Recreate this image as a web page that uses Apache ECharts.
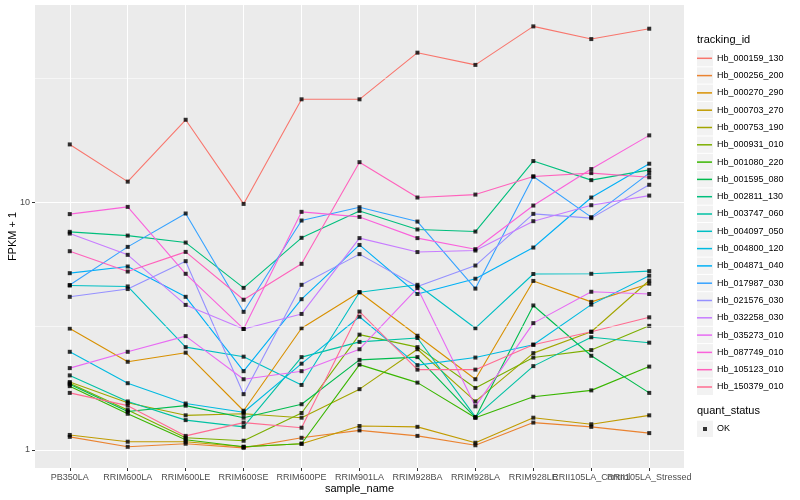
<!DOCTYPE html>
<html>
<head>
<meta charset="utf-8">
<script src="https://cdn.jsdelivr.net/npm/echarts@6/dist/echarts.min.js"></script>
<style>html,body{margin:0;padding:0;background:#fff}#c{width:800px;height:500px}</style>
</head>
<body>
<div id="c"></div>
<script>
const categories = ['PB350LA','RRIM600LA','RRIM600LE','RRIM600SE','RRIM600PE','RRIM901LA','RRIM928BA','RRIM928LA','RRIM928LE','RRII105LA_Control','RRII105LA_Stressed'];

const trackingIds = ['Hb_000159_130','Hb_000256_200','Hb_000270_290','Hb_000703_270','Hb_000753_190','Hb_000931_010','Hb_001080_220','Hb_001595_080','Hb_002811_130','Hb_003747_060','Hb_004097_050','Hb_004800_120','Hb_004871_040','Hb_017987_030','Hb_021576_030','Hb_032258_030','Hb_035273_010','Hb_087749_010','Hb_105123_010','Hb_150379_010'];

const hb000159_130 = [17.1, 12.1, 21.5, 9.84, 26.0, 26.0, 40.1, 35.8, 51.2, 45.5, 50.1];
const hb000256_200 = [1.13, 1.03, 1.06, 1.02, 1.12, 1.20, 1.14, 1.045, 1.29, 1.24, 1.17];
const hb000270_290 = [3.09, 2.27, 2.47, 1.44, 3.10, 4.33, 2.89, 1.93, 4.81, 3.96, 4.69];
const hb000703_270 = [1.15, 1.08, 1.08, 1.03, 1.06, 1.25, 1.24, 1.07, 1.35, 1.27, 1.38];
const hb000753_190 = [1.88, 1.55, 1.38, 1.40, 1.35, 1.76, 2.55, 1.57, 2.46, 3.00, 4.83];
const hb000931_010 = [1.86, 1.45, 1.12, 1.09, 1.41, 2.92, 2.60, 1.78, 2.36, 2.53, 3.17];
const hb001080_220 = [1.81, 1.40, 1.10, 1.03, 1.06, 2.21, 1.87, 1.35, 1.64, 1.74, 2.17];
const hb001595_080 = [1.84, 1.43, 1.51, 1.35, 1.53, 2.31, 2.37, 1.35, 3.83, 2.40, 1.70];
const hb002811_130 = [7.59, 7.33, 6.87, 4.51, 7.18, 9.22, 7.76, 7.61, 14.65, 12.27, 13.5];
const hb003747_060 = [2.00, 1.57, 1.32, 1.24, 2.37, 2.73, 2.83, 1.36, 2.18, 2.85, 2.71];
const hb004097_050 = [4.61, 4.57, 2.60, 2.38, 1.83, 4.33, 4.64, 3.10, 5.13, 5.14, 5.27];
const hb004800_120 = [2.49, 1.86, 1.54, 1.42, 2.23, 3.45, 2.20, 2.36, 2.66, 3.86, 5.05];
const hb004871_040 = [5.17, 5.50, 4.15, 2.08, 4.06, 6.72, 4.26, 4.91, 6.56, 10.44, 14.29];
const hb017987_030 = [4.63, 6.60, 9.00, 3.61, 8.43, 9.54, 8.35, 4.48, 12.69, 8.70, 13.1];
const hb021576_030 = [4.15, 4.46, 5.78, 1.68, 4.64, 6.17, 4.57, 5.55, 8.97, 8.62, 11.75];
const hb032258_030 = [7.47, 6.13, 3.85, 3.08, 3.54, 7.16, 6.29, 6.38, 8.38, 9.72, 10.63];
const hb035273_010 = [2.14, 2.49, 2.88, 1.93, 2.08, 2.55, 4.50, 1.50, 3.25, 4.35, 4.26];
const hb087749_010 = [8.95, 9.57, 5.14, 3.08, 9.14, 8.72, 7.16, 6.46, 9.69, 13.6, 18.6];
const hb105123_010 = [6.34, 5.25, 6.30, 4.04, 5.64, 14.5, 10.44, 10.73, 12.69, 13.1, 12.6];
const hb150379_010 = [1.70, 1.51, 1.14, 1.29, 1.23, 3.62, 2.11, 2.11, 2.66, 3.00, 3.43];

const seriesValues = [hb000159_130, hb000256_200, hb000270_290, hb000703_270, hb000753_190, hb000931_010, hb001080_220, hb001595_080, hb002811_130, hb003747_060, hb004097_050, hb004800_120, hb004871_040, hb017987_030, hb021576_030, hb032258_030, hb035273_010, hb087749_010, hb105123_010, hb150379_010];

const colors = ['#F8766D','#EA8331','#D89000','#C09B00','#A3A500','#7CAE00','#39B600','#00BB4E','#00BF7D','#00C1A3','#00BFC4','#00BAE0','#00B0F6','#35A2FF','#9590FF','#C77CFF','#E76BF3','#FA62DB','#FF62BC','#FF6C91'];

const yTicks = [1, 10];
const yMinorTicks = [3.1623, 31.623];
const quantStatus = ['OK'];

const FONT = 'Liberation Sans, Arial, Helvetica, sans-serif';

const catIdx = categories.map((c, i) => i);
const evenIdx = catIdx.filter(i => i % 2 === 0);
const oddIdx = catIdx.filter(i => i % 2 === 1);

const chart = echarts.init(document.getElementById('c'), null, {renderer: 'canvas'});

const lineSeries = seriesValues.map((vals, k) => ({
  name: trackingIds[k],
  type: 'line',
  xAxisIndex: 0,
  yAxisIndex: 0,
  data: vals.map((v, i) => [i, v]),
  symbol: 'none',
  showSymbol: false,
  lineStyle: {color: colors[k], width: 1.1},
  itemStyle: {color: colors[k]},
  z: 2,
  silent: true,
  animation: false
}));

const allPoints = [];
seriesValues.forEach(vals => vals.forEach((v, i) => allPoints.push([i, v])));

const keyRects = trackingIds.map((id, i) => ({
  type: 'rect',
  shape: {x: 697, y: 50 + i * 17.3, width: 16, height: 16.3},
  style: {fill: '#F2F2F2'},
  z: 0, silent: true
}));
keyRects.push({
  type: 'rect',
  shape: {x: 697, y: 420.7, width: 16, height: 16.3},
  style: {fill: '#F2F2F2'},
  z: 0, silent: true
});

const labelStyle = {color: '#4D4D4D', fontSize: 9, margin: 5, fontFamily: FONT};

const option = {
  animation: false,
  backgroundColor: '#ffffff',
  textStyle: {fontFamily: FONT},
  title: [
    {text: 'tracking_id', left: 697, top: 34, padding: 0,
     textStyle: {fontSize: 11, fontWeight: 'normal', color: '#000', fontFamily: FONT}},
    {text: 'quant_status', left: 697, top: 405, padding: 0,
     textStyle: {fontSize: 11, fontWeight: 'normal', color: '#000', fontFamily: FONT}}
  ],
  grid: [
    {left: 35, right: 116, top: 5, bottom: 32, show: true, backgroundColor: '#EBEBEB', borderWidth: 0,
     containLabel: false, outerBoundsMode: 'none'},
    {left: 69.8, right: 150.8, top: 5, bottom: 32, show: false, containLabel: false, outerBoundsMode: 'none'}
  ],
  xAxis: [
    {gridIndex: 0, type: 'value', min: -0.6, max: 10.6, position: 'bottom',
     axisLine: {show: false, onZero: false}, axisTick: {show: false}, splitLine: {show: false},
     axisLabel: Object.assign({customValues: oddIdx, formatter: v => categories[Math.round(v)] || '',
                               showMinLabel: true, showMaxLabel: true}, labelStyle)},
    {gridIndex: 1, type: 'value', min: 0, max: 10, interval: 1, position: 'bottom',
     axisLine: {show: false, onZero: false},
     axisTick: {show: true, length: 3, lineStyle: {color: '#333333', width: 1}},
     axisLabel: Object.assign({customValues: evenIdx, formatter: v => categories[Math.round(v)] || '',
                               showMinLabel: true, showMaxLabel: true}, labelStyle),
     splitLine: {show: true, lineStyle: {color: '#ffffff', width: 1.07}},
     name: 'sample_name', nameLocation: 'middle', nameGap: 15, nameMoveOverlap: false,
     nameTextStyle: {fontSize: 11, color: '#000', fontFamily: FONT}}
  ],
  yAxis: [
    {gridIndex: 0, type: 'log', logBase: 10, min: 0.846, max: 62.45,
     axisLine: {show: false, onZero: false},
     axisTick: {show: true, length: 3, lineStyle: {color: '#333333', width: 1}, customValues: yTicks},
     axisLabel: Object.assign({customValues: yTicks, showMinLabel: true, showMaxLabel: true,
                               formatter: v => String(Math.round(v))}, labelStyle),
     splitLine: {show: true, lineStyle: {color: '#ffffff', width: 1.07}},
     name: 'FPKM + 1', nameLocation: 'middle', nameRotate: 90, nameGap: 17, nameMoveOverlap: false,
     nameTextStyle: {fontSize: 11, color: '#000', fontFamily: FONT}},
    {gridIndex: 1, type: 'value', min: 0, max: 1, show: false}
  ],
  legend: [
    {orient: 'vertical', left: 697, top: 49.8, padding: 0, itemWidth: 15, itemHeight: 1.5, itemGap: 0.3,
     icon: 'rect', selectedMode: false,
     textStyle: {fontSize: 9, lineHeight: 17, color: '#000', fontFamily: FONT},
     data: trackingIds.map((n, i) => ({name: n, icon: 'rect', itemStyle: {color: colors[i], borderWidth: 0}}))},
    {orient: 'vertical', left: 703, top: 420.5, padding: 0, itemWidth: 4, itemHeight: 4, itemGap: 0,
     icon: 'rect', selectedMode: false,
     textStyle: {fontSize: 9, lineHeight: 17, color: '#000', fontFamily: FONT, padding: [0, 0, 0, 5]},
     data: quantStatus.map(n => ({name: n, itemStyle: {color: '#000', borderWidth: 0}}))}
  ],
  graphic: keyRects,
  series: [
    {name: 'minor', type: 'line', xAxisIndex: 0, yAxisIndex: 0, data: [], z: 1, silent: true,
     markLine: {silent: true, symbol: ['none', 'none'], label: {show: false}, animation: false,
                lineStyle: {color: '#ffffff', width: 0.55, type: 'solid'},
                emphasis: {disabled: true},
                data: yMinorTicks.map(v => ({yAxis: v}))}},
    ...lineSeries,
    {name: 'OK', type: 'scatter', xAxisIndex: 0, yAxisIndex: 0, data: allPoints,
     symbol: 'rect', symbolSize: 4, itemStyle: {color: '#000'}, z: 3, silent: true, animation: false}
  ]
};
chart.setOption(option);
</script>
</body>
</html>
